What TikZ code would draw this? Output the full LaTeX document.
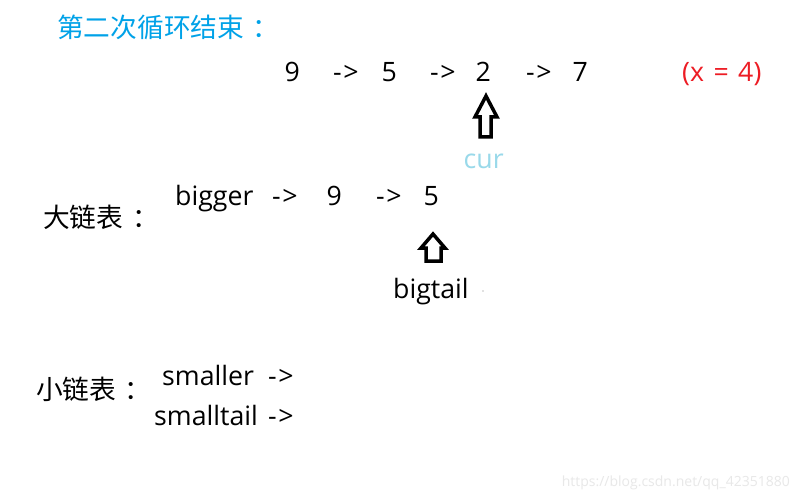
\documentclass[tikz,border=0pt]{standalone}
\usepackage{fontspec}
\setmainfont{Open Sans}
\newfontfamily\cjk{Noto Sans CJK SC}
\definecolor{titleblue}{RGB}{0,162,232}
\definecolor{curblue}{RGB}{153,217,234}
\definecolor{paintred}{RGB}{237,28,36}
\definecolor{wmgray}{RGB}{232,232,232}
\newcommand{\arr}{-\kern1.5pt>}
\begin{document}
\begin{tikzpicture}[x=1pt,y=-1pt,
  txt/.style={anchor=base west, inner sep=0pt, font=\fontsize{26.7}{30}\selectfont},
  cjktxt/.style={anchor=west, inner sep=0pt, font=\cjk\fontsize{26.7}{30}\selectfont},
  blockarrow/.style={draw=black, line width=3.5pt, line join=miter, fill=white}]
\path[use as bounding box, fill=white] (0,0) rectangle (802,497);

% title
\node[cjktxt, text=titleblue] (title) at (57,27) {第二次循环结束\kern8pt：};

% row 1
\node[txt] (n9) at (284.5,82) {9};
\node[txt] (a1) at (333,82) {\arr};
\node[txt] (n5) at (381.5,82) {5};
\node[txt] (a2) at (430,82) {\arr};
\node[txt] (n2) at (475.5,82) {2};
\node[txt] (a3) at (526,82) {\arr};
\node[txt] (n7) at (572.5,82) {7};
\node[txt, text=paintred] (xval) at (682,82) {(x\kern2.5pt{} = \kern2.5pt4)};

% cur arrow
\draw[blockarrow] (486,96) -- (497,117) -- (491,117) -- (491,137)
  -- (480,137) -- (480,117) -- (475,117) -- cycle;
\node[txt, text=curblue] (cur) at (463.5,168) {cur};

% bigger row
\node[cjktxt] (big) at (43,217) {大链表\kern9pt：};
\node[txt] (bigger) at (175,205) {bigger};
\node[txt] (b1) at (272,205) {\arr};
\node[txt] (b9) at (326.5,205) {9};
\node[txt] (b2) at (376,205) {\arr};
\node[txt] (b5) at (423.5,205) {5};

% bigtail arrow
\draw[blockarrow] (433,234) -- (445,248) -- (441,248) -- (441,261)
  -- (426,261) -- (426,248) -- (421,248) -- cycle;
\node[txt] (bigtail) at (393,298) {bigtail};
\fill[gray] (483,291) circle (0.7);

% smaller rows
\node[cjktxt] (small) at (36,389) {小链表\kern8pt：};
\node[txt] (smaller) at (162,385) {smaller};
\node[txt] (s1) at (268,385) {\arr};
\node[txt] (smalltail) at (154,425) {smalltail};
\node[txt] (s2) at (268,425) {\arr};

% watermark
\node[anchor=base east, inner sep=0pt, text=wmgray, font=\fontsize{14}{16}\selectfont] (wm) at (790,486) {https://blog.csdn.net/qq\_42351880};
\end{tikzpicture}
\end{document}
